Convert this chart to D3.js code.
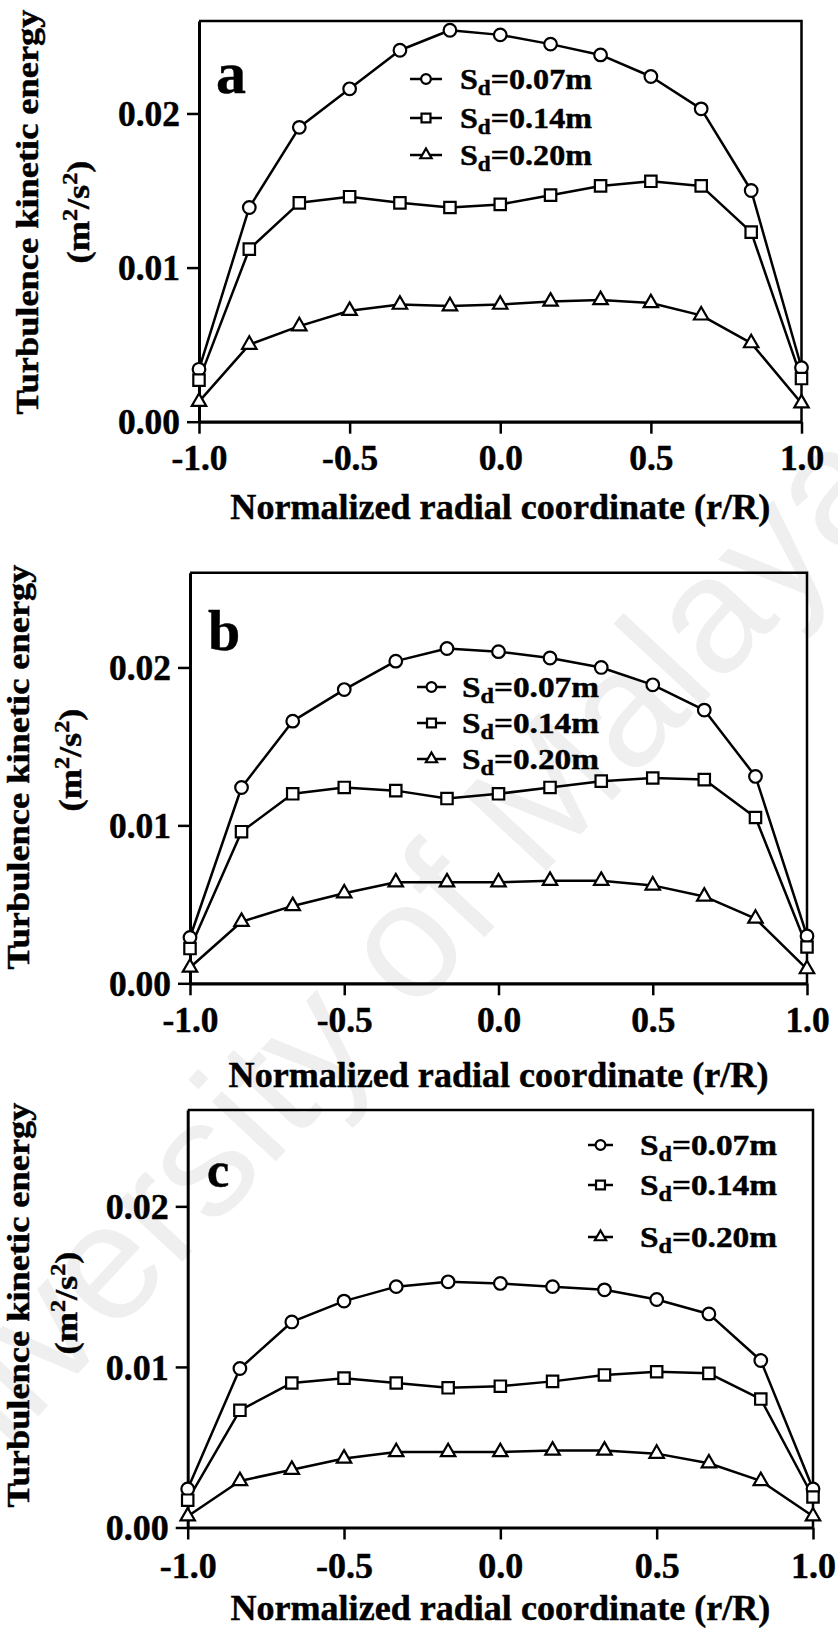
<!DOCTYPE html>
<html><head><meta charset="utf-8">
<script src="https://cdn.jsdelivr.net/npm/d3@7"></script>
<style>
body{margin:0;background:#fff}
svg{display:block}
text{font-family:"Liberation Serif","Times New Roman",serif;font-weight:bold;fill:#000}
.heavy text, text.heavy{stroke:#000;stroke-width:0.45px}
</style>
</head><body>
<svg id="chart" width="838" height="1636"></svg>
<script>
// ---------- data ----------
const xValues = [-1, -0.833, -0.667, -0.5, -0.333, -0.167, 0, 0.167, 0.333, 0.5, 0.667, 0.833, 1];
const seriesNames = ["0.07m", "0.14m", "0.20m"];
const panelLabels = ["a", "b", "c"];
const xTicks = [-1, -0.5, 0, 0.5, 1];
const yTicks = [0, 0.01, 0.02];
const yTitle = "Turbulence kinetic energy";
const xTitle = "Normalized radial coordinate (r/R)";

const a07 = [0.0034, 0.0139, 0.0191, 0.0216, 0.0241, 0.0254, 0.0251, 0.0245, 0.0238, 0.0224, 0.0203, 0.0150, 0.0035];
const a14 = [0.0027, 0.0112, 0.0142, 0.0146, 0.0142, 0.0139, 0.0141, 0.0147, 0.0153, 0.0156, 0.0153, 0.0123, 0.0028];
const a20 = [0.0013, 0.0050, 0.0062, 0.0072, 0.0076, 0.0075, 0.0076, 0.0078, 0.0079, 0.0077, 0.0069, 0.0051, 0.0012];

const b07 = [0.0029, 0.0124, 0.0166, 0.0186, 0.0204, 0.0212, 0.0210, 0.0206, 0.0200, 0.0189, 0.0173, 0.0131, 0.0030];
const b14 = [0.0022, 0.0096, 0.0120, 0.0124, 0.0122, 0.0117, 0.0120, 0.0124, 0.0128, 0.0130, 0.0129, 0.0105, 0.0023];
const b20 = [0.0010, 0.0039, 0.0049, 0.0057, 0.0064, 0.0064, 0.0064, 0.0065, 0.0065, 0.0062, 0.0055, 0.0041, 0.0009];

const c07 = [0.0024, 0.0099, 0.0128, 0.0141, 0.0150, 0.0153, 0.0152, 0.0150, 0.0148, 0.0142, 0.0133, 0.0104, 0.0024];
const c14 = [0.0017, 0.0073, 0.0090, 0.0093, 0.0090, 0.0087, 0.0088, 0.0091, 0.0095, 0.0097, 0.0096, 0.0080, 0.0019];
const c20 = [0.0007, 0.0029, 0.0036, 0.0043, 0.0047, 0.0047, 0.0047, 0.0048, 0.0048, 0.0046, 0.0040, 0.0029, 0.0007];

const panelData = [[a07, a14, a20], [b07, b14, b20], [c07, c14, c20]];

// ---------- layout (positions / sizes only) ----------
const layout = [
  {l:199, r:801.5, t:21, b:421.7, lab:{x:216, y:93, fs:60},
   yt:{x1:37.5, y1:212, x2:89, y2:212}, xt:519, tk:470, ytw:62,
   leg:{x0:410, x1:442, tx:460, rows:[89,128,165], w:132}},
  {l:190, r:807, t:572.7, b:983.3, lab:{x:208, y:650, fs:58},
   yt:{x1:29, y1:767, x2:80.5, y2:760}, xt:1087, tk:1032, ytw:62,
   leg:{x0:417, x1:446, tx:462, rows:[697,733,769], w:137}},
  {l:187.7, r:813, t:1110, b:1527.5, lab:{x:207, y:1187, fs:50},
   yt:{x1:29, y1:1305, x2:77, y2:1303}, xt:1620, tk:1578, ytw:63,
   leg:{x0:588, x1:613, tx:640, rows:[1155,1195,1247], w:137}}
];

const svg = d3.select("#chart");

// watermark
svg.append("text")
  .attr("transform", "translate(900,492) rotate(-47)")
  .attr("text-anchor", "end")
  .style("font-family", "'Liberation Sans', Arial, sans-serif")
  .style("font-weight", "normal")
  .style("font-size", "165px")
  .style("fill", "#efefef")
  .text("University of Malaya");

function fitScale(node, target) {
  const L = node.getComputedTextLength();
  return L > 0 ? target / L : 1;
}

const symbolTypes = [
  d3.symbol().type(d3.symbolCircle).size(125),
  d3.symbol().type(d3.symbolSquare).size(130),
  d3.symbol().type(d3.symbolTriangle).size(90)
];
const legendSymbols = [
  d3.symbol().type(d3.symbolCircle).size(75),
  d3.symbol().type(d3.symbolSquare).size(80),
  d3.symbol().type(d3.symbolTriangle).size(55)
];

layout.forEach((L, pi) => {
  const g = svg.append("g").attr("class", "heavy");
  const x = d3.scaleLinear().domain([-1, 1]).range([L.l, L.r]);
  const y = d3.scaleLinear().domain([0, 0.026]).range([L.b, L.t]);

  // frame top/right
  g.append("path")
    .attr("d", `M${L.l},${L.t}H${L.r}V${L.b}`)
    .attr("fill", "none").attr("stroke", "#000").attr("stroke-width", 2.5);

  // axes
  const yAxis = g.append("g").attr("transform", `translate(${L.l},0)`)
    .call(d3.axisLeft(y).tickValues(yTicks).tickFormat(d => d.toFixed(2)).tickSize(12).tickSizeOuter(0));
  const xAxis = g.append("g").attr("transform", `translate(0,${L.b})`)
    .call(d3.axisBottom(x).tickValues(xTicks).tickFormat(d => d.toFixed(1)).tickSize(12).tickSizeOuter(0));
  [yAxis, xAxis].forEach(a => a.attr("font-family", null).attr("font-size", null));
  yAxis.select(".domain").attr("stroke-width", 3);
  xAxis.select(".domain").attr("stroke-width", 3.2);
  yAxis.selectAll(".tick line").attr("stroke-width", 2.5);
  xAxis.selectAll(".tick line").attr("stroke-width", 2.5);

  const yText = yAxis.selectAll(".tick text").attr("x", -19).attr("dy", "0.34em")
    .style("font-size", "35px");
  const fsTick = 35 * fitScale(yText.node(), L.ytw);
  yText.style("font-size", fsTick + "px");
  xAxis.selectAll(".tick text").attr("y", L.tk - L.b).attr("dy", null)
    .style("font-size", fsTick + "px");

  // axis titles
  const xt = g.append("text").attr("text-anchor", "middle")
    .style("font-size", "35px").text(xTitle);
  const kx = fitScale(xt.node(), 540);
  xt.attr("transform", `translate(${(L.l + L.r) / 2},${L.xt}) scale(${kx},1)`);

  const yt1 = g.append("text").attr("text-anchor", "middle")
    .style("font-size", "31.5px").text(yTitle);
  const k1 = fitScale(yt1.node(), 405);
  yt1.attr("transform", `translate(${L.yt.x1},${L.yt.y1}) rotate(-90) scale(${k1},1)`);

  const yt2 = g.append("text").attr("text-anchor", "middle").style("font-size", "31.5px");
  yt2.append("tspan").text("(m");
  yt2.append("tspan").style("font-size", "21px").attr("dy", -12).text("2");
  yt2.append("tspan").attr("dy", 12).text("/s");
  yt2.append("tspan").style("font-size", "21px").attr("dy", -12).text("2");
  yt2.append("tspan").attr("dy", 12).text(")");
  const k2 = fitScale(yt2.node(), 103);
  yt2.attr("transform", `translate(${L.yt.x2},${L.yt.y2}) rotate(-90) scale(${k2},1)`);

  // panel label
  g.append("text").attr("x", L.lab.x).attr("y", L.lab.y)
    .style("font-size", L.lab.fs + "px").text(panelLabels[pi]);

  // series
  const line = d3.line().x((d, i) => x(xValues[i])).y(d => y(d));
  panelData[pi].forEach((vals) => {
    g.append("path").datum(vals).attr("d", line)
      .attr("fill", "none").attr("stroke", "#000").attr("stroke-width", 2.5)
      .attr("stroke-linejoin", "round");
  });
  panelData[pi].forEach((vals, si) => {
    g.selectAll(null).data(vals).enter().append("path")
      .attr("d", symbolTypes[si])
      .attr("transform", (d, i) => `translate(${x(xValues[i])},${y(d)})`)
      .attr("fill", "#fff").attr("stroke", "#000").attr("stroke-width", 2.2);
  });

  // legend
  seriesNames.forEach((name, si) => {
    const by = L.leg.rows[si];
    const my = by - 10;
    g.append("line").attr("x1", L.leg.x0).attr("x2", L.leg.x1).attr("y1", my).attr("y2", my)
      .attr("stroke", "#000").attr("stroke-width", 2.5);
    g.append("path").attr("d", legendSymbols[si])
      .attr("transform", `translate(${(L.leg.x0 + L.leg.x1) / 2},${my})`)
      .attr("fill", "#fff").attr("stroke", "#000").attr("stroke-width", 2.2);
    const t = g.append("text").style("font-size", "29px");
    t.append("tspan").text("S");
    t.append("tspan").style("font-size", "21px").attr("dy", 6).text("d");
    t.append("tspan").attr("dy", -6).text("=" + name);
    const k = fitScale(t.node(), L.leg.w);
    t.attr("transform", `translate(${L.leg.tx},${by}) scale(${k},1)`);
  });
});
</script>
</body></html>
